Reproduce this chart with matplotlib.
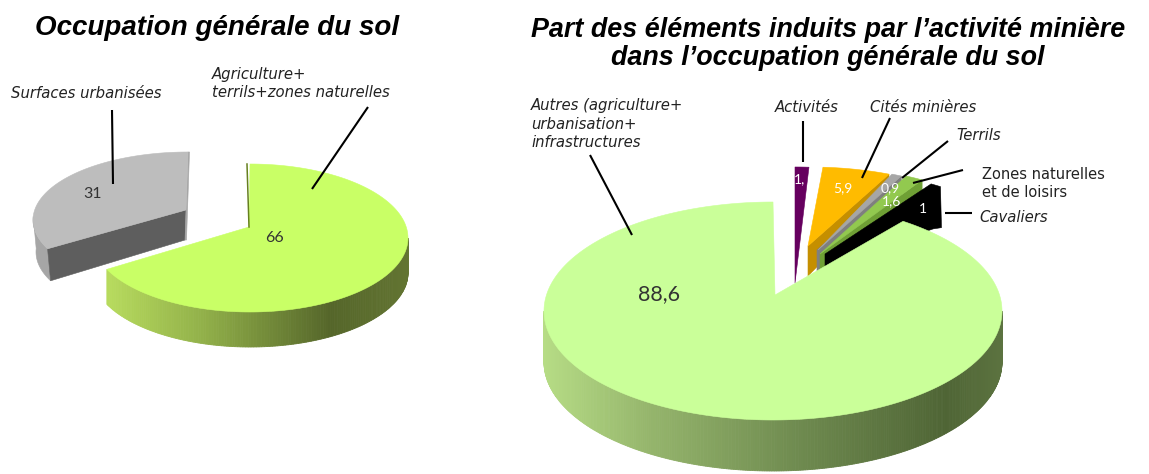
import numpy as np
import matplotlib
matplotlib.use("Agg")
import matplotlib.pyplot as plt
from matplotlib.patches import Polygon
from matplotlib.colors import to_rgb

# ---- data ----
left_names = ["Agriculture+\nterrils+zones naturelles", "Surfaces urbanisées"]
left_values = [66, 31]
left_value_labels = ["66", "31"]

right_names = ["Activités", "Cités minières", "Terrils", "Zones naturelles\net de loisirs",
               "Cavaliers", "Autres (agriculture+\nurbanisation+\ninfrastructures"]
right_values = [1.2, 5.9, 0.9, 1.6, 1.0, 88.6]
right_value_labels = ["1,", "5,9", "0,9", "1,6", "1", "88,6"]

title_left = "Occupation générale du sol"
title_right = "Part des éléments induits par l’activité minière\ndans l’occupation générale du sol"

W, H = 1149, 474
fig = plt.figure(figsize=(W / 100, H / 100), dpi=100)
ax = fig.add_axes([0, 0, 1, 1])
ax.set_xlim(0, W)
ax.set_ylim(H, 0)
ax.axis("off")


def sweeps(values):
    frac = np.array(values, float) / np.sum(values) * 360
    ends = np.cumsum(frac)
    return ends - frac, ends


def rim(c, r, t0, t1, n=160):
    t = np.radians(np.linspace(t0, t1, n))
    return np.column_stack([c[0] + r[0] * np.sin(t), c[1] - r[1] * np.cos(t)])


def poly(pts, color, z, lw=0.4):
    ax.add_patch(Polygon(pts, closed=True, facecolor=color, edgecolor=color, lw=lw, zorder=z, snap=False))


def side(pts, depth, stops, z):
    xs = [s[0] for s in stops]
    cols = np.array([to_rgb(s[1]) for s in stops])
    for a, b in zip(pts[:-1], pts[1:]):
        xm = (a[0] + b[0]) / 2
        col = [np.interp(xm, xs, cols[:, i]) for i in range(3)]
        poly([a, b, b + [0, depth], a + [0, depth]], col, z, lw=0.6)


def slice_top(apex, rim_pts, color, z):
    poly(np.vstack([apex, rim_pts]), color, z)


# ---- left pie ----
Lc, Lr, Lapex, Ldepth = (250, 238), (158, 74), np.array([249.0, 227.0]), 35
s, e = sweeps(left_values)
g_rim = rim(Lc, Lr, 0, e[0])
side(rim(Lc, Lr, 90, e[0]), Ldepth,
     [(105, "#b8dc5e"), (200, "#93b24a"), (330, "#55662a"), (410, "#637532")], 2)
slice_top(Lapex, g_rim, "#c9ff66", 3)
ax.plot([g_rim[0][0] - 3, Lapex[0]], [g_rim[0][1], Lapex[1]], color="#66801f", lw=1.1, zorder=3)

gc, gr = (188, 220), (155, 68)        # ellipse of the pulled-out grey slice
g2 = rim(gc, gr, e[0], e[1])
a2 = np.array([186.0, 210.0])
g2_low = rim(gc, gr, e[0], e[0] + 28, 30)
poly(np.vstack([g2_low, g2_low[::-1] + [3, 32]]), "#a6a6a6", 1)
poly([a2, g2[0], g2[0] + [3, 32], a2 + [-1, 30]], "#5e5e5e", 2)
poly([g2[-1], g2[-1] + [1.5, 0], a2 + [0.5, 30], a2 + [-1, 30]], "#a6a6a6", 2)
slice_top(a2, g2, "#bdbdbd", 3)

# ---- right pie ----
Rc, Rr, Rapex, Rdepth = (773, 311), (229, 109), np.array([775.0, 295.0]), 51
s, e = sweeps(right_values)
xc, xr = (809, 239), (184, 72)        # ellipse on which the pulled-out slices sit

# Activités
pts = rim(xc, xr, s[0], e[0], 20) + [-14, 0]
slice_top(np.array([795.0, 283.0]), pts, "#66005f", 2)

# Cités minières
pts = rim(xc, xr, s[1], e[1], 40)
ap = np.array([808.0, 246.0])
poly([ap, pts[-1], pts[-1] + [0, 19], ap + [0, 30]], "#c58f00", 2)
slice_top(ap, pts, "#ffbb00", 3)

# Terrils
pts = rim(xc, xr, s[2], e[2], 10) + [3, 0]
ap = np.array([818.0, 250.0])
poly([ap + [-1, 0], pts[-1], pts[-1] + [0, 22], ap + [-1, 30]], "#7f7f7f", 4)
slice_top(ap, pts, "#a6a6a6", 5)

# Zones naturelles
pts = rim(xc, xr, s[3], e[3], 10) + [8, 0]
ap = np.array([820.0, 254.0])
poly([ap, pts[-1], pts[-1] + [0, 20], ap + [0, 30]], "#6fa035", 6)
slice_top(ap, pts, "#92c94f", 7)

# Cavaliers
pts = rim(xc, xr, s[4], e[4], 10) + [17, 4]
ap = np.array([825.0, 254.0])
poly([ap, pts[0], pts[-1], pts[-1] + [1, 41], pts[0] + [2, 45], ap + [0, 12]], "black", 8)

# Autres
g_rim = rim(Rc, Rr, 34.6, 360, 400)
side(rim(Rc, Rr, 90, 270, 300), Rdepth,
     [(544, "#b6dc85"), (650, "#95b56c"), (800, "#6e8a4f"), (945, "#4f6535"), (1002, "#5c7340")], 9)
slice_top(Rapex, g_rim, "#caff99", 10)

# ---- leader lines ----
leaders = [((112, 110), (113, 184)), ((368, 107), (312, 189)),
           ((590, 155), (632, 235)), ((803, 121), (803, 162)),
           ((890, 118), (862, 178)), ((948, 141), (902, 178)),
           ((963, 170), (913, 183)), ((945, 213), (972, 213))]
for a, b in leaders:
    ax.plot([a[0], b[0]], [a[1], b[1]], color="black", lw=1.5, zorder=12, solid_capstyle="butt")

# ---- text ----
TF = "Liberation Sans"
LF = "DejaVu Sans"
ax.text(217, 28, title_left, family=TF, weight="bold", style="italic", size=20, ha="center", va="center")
ax.text(828, 44, title_right, family=TF, weight="bold", style="italic", size=19.4, ha="center", va="center",
        linespacing=1.08)


def label(x, y, s, italic=True, size=10.7):
    ax.text(x, y, s, family=LF, style="italic" if italic else "normal", size=size, color="#222222",
            ha="left", va="center", linespacing=1.3, zorder=13)


label(11, 93, left_names[1])
label(212, 83.5, left_names[0])
label(531, 124, right_names[5])
label(775, 107, right_names[0])
label(870, 107, right_names[1])
label(956, 135, right_names[2])
label(982, 183.5, right_names[3], italic=False, size=10.5)
label(979, 217, right_names[4])


def val(x, y, s, c, size=10):
    ax.text(x, y, s, family="Lato", size=size, color=c, ha="center", va="center", zorder=13)


val(275, 238, left_value_labels[0], "#333333", 11.5)
val(93, 194, left_value_labels[1], "#333333", 11.5)
val(799, 179, right_value_labels[0], "white")
val(843, 188, right_value_labels[1], "white")
val(890, 188, right_value_labels[2], "white")
val(892, 201, right_value_labels[3], "white")
val(923, 209, right_value_labels[4], "white")
val(659, 294, right_value_labels[5], "#333333", 15.5)

fig.savefig("out.png", dpi=100, facecolor="white")
